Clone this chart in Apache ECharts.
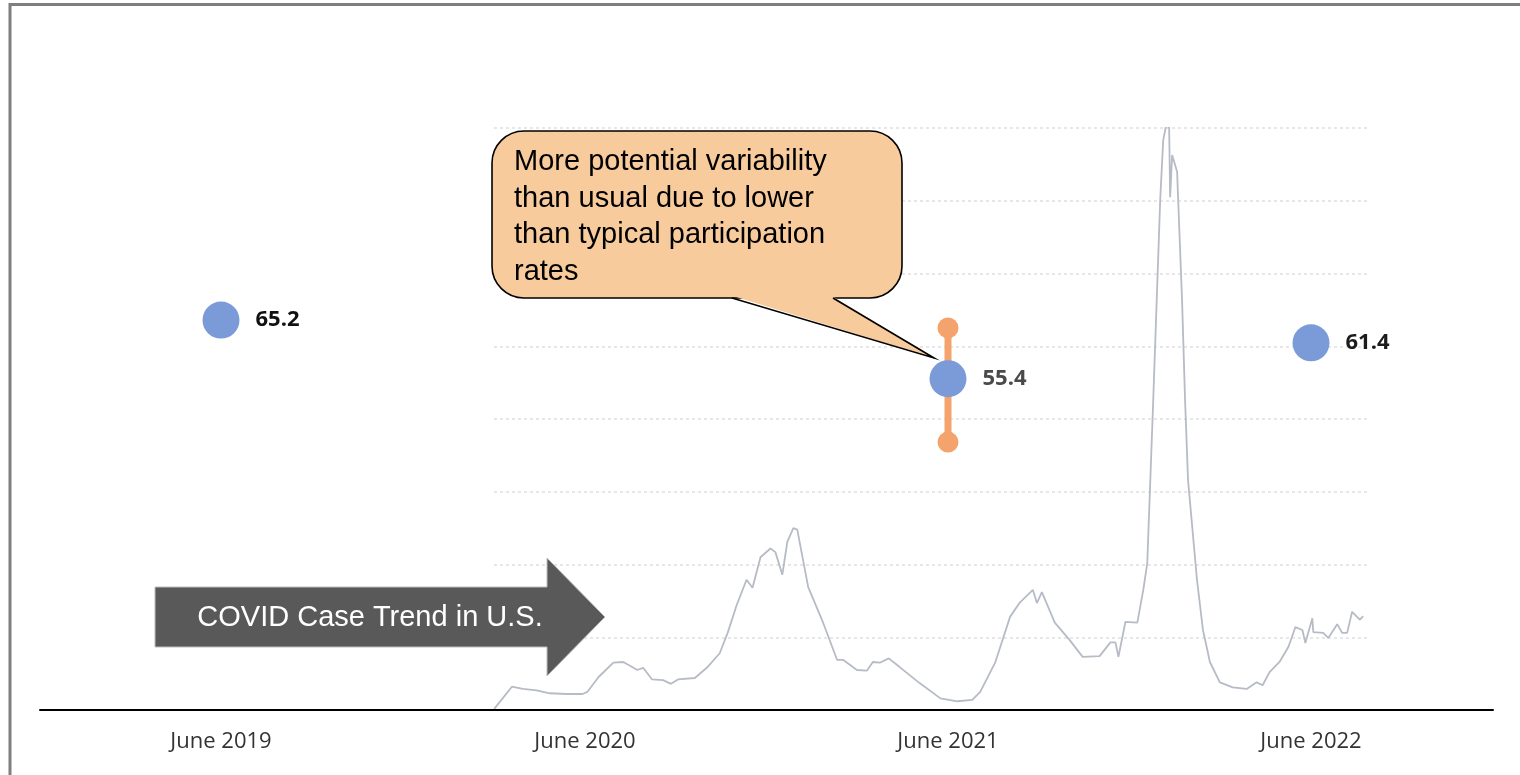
<!DOCTYPE html>
<html>
<head>
<meta charset="utf-8">
<script src="https://cdn.jsdelivr.net/npm/echarts@6/dist/echarts.min.js"></script>
<style>
html,body{margin:0;padding:0;background:#fff;}
#chart{width:1520px;height:775px;}
</style>
</head>
<body>
<div id="chart"></div>
<script>
// ---- data ----
const xTickDates = ['2019-06-01', '2020-06-01', '2021-06-01', '2022-06-01'];
const xTickLabels = ['June 2019', 'June 2020', 'June 2021', 'June 2022'];

const scoreDates = ['2019-06-01', '2021-06-01', '2022-06-01'];
const scoreValues = [65.2, 55.4, 61.4];

const errorBarDate = '2021-06-01';
const errorBarHigh = 63.9;
const errorBarLow = 44.8;

// COVID 7-day average cases (thousands), days since covidStart
const covidStart = '2020-03-01';
const covidDays = [0, 1, 18, 29, 43, 56, 73, 89, 94, 105, 120, 130, 139, 144, 150, 159, 170, 178, 185, 202,
  214, 227, 235, 244, 254, 260, 268, 278, 283, 290, 295, 301, 305, 316, 331, 345, 351, 365, 375, 381,
  388, 397, 408, 428, 449, 466, 481, 489, 504, 519, 529, 542, 546, 551, 564, 579, 592, 609, 620, 625,
  628, 635, 647, 653, 657, 663, 670, 673, 676, 679, 680, 682, 687, 688, 692, 695, 698, 707, 713, 720,
  730, 743, 757, 767, 773, 780, 790, 799, 806, 813, 816, 823, 824, 834, 839, 848, 853, 858, 863, 871, 874];
const covidCases = [0, 3, 32, 29, 27, 23, 22, 22, 25, 45, 65, 66, 59, 55, 58, 42, 41, 36, 42, 44,
  58, 78, 106, 144, 179, 168, 210, 222, 217, 186, 231, 250, 248, 169, 120, 69, 69, 55, 54, 66,
  65, 71, 59, 37, 16, 12, 14, 25, 65, 128, 148, 165, 147, 162, 120, 96, 73, 74, 93, 93,
  73, 121, 120, 165, 202, 426, 701, 783, 804, 801, 705, 763, 740, 704, 563, 426, 316, 179, 110, 66,
  38, 31, 29, 38, 34, 52, 66, 87, 114, 110, 92, 126, 107, 106, 99, 118, 106, 106, 135, 124, 129];
const covidSpanDays = 881;

// ---- helpers ----
const DAY = 86400000;
function ts(s) { return new Date(s + 'T00:00:00Z').getTime(); }
const tickTs = xTickDates.map(ts);
const covidStartTs = ts(covidStart);
const covidData = covidDays.map((d, i) => [covidStartTs + d * DAY, covidCases[i]]);
const scoreData = scoreDates.map((d, i) => [ts(d), scoreValues[i]]);
const labelColors = ['#111111', '#4a4a4a', '#1c1c1c'];

const chart = echarts.init(document.getElementById('chart'), null, { renderer: 'canvas' });

const option = {
  backgroundColor: '#ffffff',
  animation: false,
  grid: [
    { left: 40, right: 27, top: 112, bottom: 65, outerBoundsMode: 'none', containLabel: false },
    { left: 494, right: 150, top: 128, bottom: 65, outerBoundsMode: 'none', containLabel: false }
  ],
  xAxis: [
    {
      type: 'value', gridIndex: 0,
      min: ts('2018-12-01'), max: ts('2022-12-01'),
      z: 10,
      axisLine: { show: true, onZero: false, lineStyle: { color: '#000000', width: 2 } },
      axisTick: { show: false },
      splitLine: { show: false },
      axisLabel: {
        show: true,
        customValues: tickTs,
        margin: 21,
        color: '#333333',
        fontFamily: 'Open Sans',
        fontSize: 22,
        hideOverlap: false,
        formatter: function (v) {
          let best = 0, bd = Infinity;
          tickTs.forEach((t, i) => { const d = Math.abs(t - v); if (d < bd) { bd = d; best = i; } });
          return xTickLabels[best];
        }
      }
    },
    {
      type: 'value', gridIndex: 1,
      min: covidStartTs, max: covidStartTs + covidSpanDays * DAY,
      show: false
    }
  ],
  yAxis: [
    { type: 'value', gridIndex: 0, min: 0, max: 100, show: false },
    {
      type: 'value', gridIndex: 1, min: 0, max: 800, interval: 100,
      axisLine: { show: false }, axisTick: { show: false }, axisLabel: { show: false },
      splitLine: { show: true, lineStyle: { color: '#e0e0e0', width: 1.5, type: [3, 3] } }
    }
  ],
  series: [
    {
      type: 'line', xAxisIndex: 1, yAxisIndex: 1,
      data: covidData,
      showSymbol: false, symbol: 'none',
      lineStyle: { color: '#b6bbc5', width: 1.8 },
      z: 2, silent: true
    },
    {
      type: 'line', xAxisIndex: 0, yAxisIndex: 0,
      data: [[ts(errorBarDate), errorBarHigh], [ts(errorBarDate), errorBarLow]],
      symbol: 'circle', symbolSize: 21, showSymbol: true,
      itemStyle: { color: '#f4a36c', opacity: 1 },
      lineStyle: { color: '#f4a36c', width: 7 },
      z: 4, silent: true
    },
    {
      type: 'scatter', xAxisIndex: 0, yAxisIndex: 0,
      data: scoreData.map((d, i) => ({
        value: d,
        label: { color: labelColors[i] }
      })),
      symbol: 'circle', symbolSize: 37,
      itemStyle: { color: '#7b9bd8', opacity: 1 },
      label: {
        show: true, position: 'right', distance: 16,
        fontFamily: 'Open Sans', fontWeight: 'bold', fontSize: 22,
        formatter: function (p) { return p.value[1].toFixed(1); }
      },
      z: 6
    }
  ],
  graphic: [
    {
      type: 'rect', silent: true, z: 0,
      shape: { x: 10, y: 4.5, width: 1600, height: 900 },
      style: { fill: 'none', stroke: '#7f7f7f', lineWidth: 3 }
    },
    {
      type: 'rect', silent: true, z: 20,
      shape: { x: 492, y: 131, width: 410, height: 167, r: 32 },
      style: { fill: '#f8cb9d', stroke: '#000000', lineWidth: 1.6 }
    },
    {
      type: 'polygon', silent: true, z: 21,
      shape: { points: [[733, 296], [832, 296], [934, 358]] },
      style: { fill: '#f8cb9d' }
    },
    {
      type: 'polyline', silent: true, z: 22,
      shape: { points: [[732, 298], [934, 358], [833, 298]] },
      style: { stroke: '#000000', lineWidth: 1.6, fill: null }
    },
    {
      type: 'text', silent: true, z: 23,
      left: 514, top: 144,
      style: {
        text: 'More potential variability\nthan usual due to lower\nthan typical participation\nrates',
        fill: '#000000',
        font: '29px "Liberation Sans", Arial, sans-serif',
        lineHeight: 36.5
      }
    },
    {
      type: 'polygon', silent: true, z: 20,
      shape: { points: [[155, 587], [547, 587], [547, 558], [605, 617], [547, 676], [547, 647], [155, 647]] },
      style: { fill: '#595959', stroke: '#bdbdbd', lineWidth: 1 }
    },
    {
      type: 'text', silent: true, z: 21,
      x: 370, y: 618,
      style: {
        text: 'COVID Case Trend in U.S.',
        fill: '#ffffff',
        font: '29px "Liberation Sans", Arial, sans-serif',
        align: 'center', verticalAlign: 'middle'
      }
    }
  ]
};
chart.setOption(option);
</script>
</body>
</html>
